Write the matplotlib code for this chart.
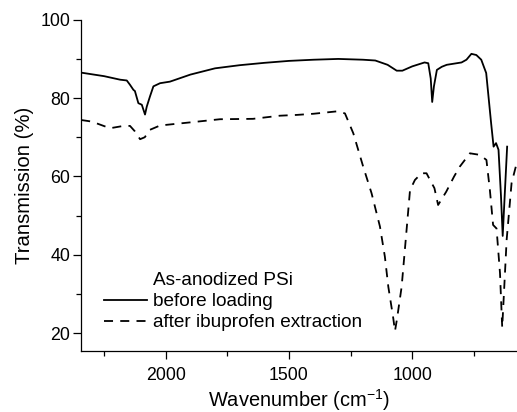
import matplotlib.pyplot as plt
from matplotlib.lines import Line2D
from matplotlib.ticker import MultipleLocator

plt.rcParams.update({
    'font.family': ['Liberation Sans', 'DejaVu Sans'],
    'font.size': 13,
    'mathtext.default': 'regular',
})

# --- data (wavenumber in cm-1, transmission in %) ---
before_wn = [2343, 2250, 2185, 2158, 2145, 2131, 2125, 2111, 2097, 2084, 2077,
             2064, 2050, 2023, 1983, 1969, 1900, 1800, 1700, 1600, 1500, 1400,
             1300, 1200, 1150, 1100, 1063, 1040, 1000, 950, 935, 925, 919, 912,
             900, 880, 860, 800, 780, 760, 740, 720, 700, 690, 680, 670, 660,
             650, 640, 633, 625, 615]
before_t = [86.5, 85.6, 84.7, 84.5, 83.4, 82.1, 81.8, 78.7, 78.3, 75.8, 77.8,
            80.4, 83.0, 83.8, 84.2, 84.5, 86.0, 87.6, 88.4, 89.0, 89.5, 89.8,
            90.0, 89.8, 89.6, 88.5, 87.0, 87.0, 88.1, 89.1, 88.9, 85.0, 79.0, 83.0,
            87.2, 88.0, 88.5, 89.1, 89.8, 91.3, 91.0, 89.8, 86.4, 80.0, 73.6,
            67.6, 68.5, 66.8, 55.0, 44.8, 55.0, 67.6]

after_wn = [2343, 2300, 2226, 2180, 2145, 2125, 2104, 2085, 2064, 2023, 1900,
            1780, 1646, 1537, 1469, 1400, 1307, 1273, 1239, 1199, 1165, 1131,
            1111, 1097, 1077, 1070, 1062, 1043, 1030, 1016, 1009, 989, 962, 942,
            928, 910, 895, 862, 830, 807, 766, 726, 699, 685, 672, 658, 644,
            635, 617, 597, 577]
after_t = [74.4, 74.0, 72.3, 72.8, 72.9, 71.5, 69.5, 70.0, 71.9, 73.0, 73.8,
           74.6, 74.7, 75.5, 75.7, 76.0, 76.6, 76.1, 71.0, 62.5, 55.7, 47.2,
           39.5, 31.8, 23.8, 20.5, 23.5, 31.8, 41.2, 51.4, 56.5, 59.1, 60.8, 60.8,
           59.1, 57.0, 52.7, 56.1, 60.0, 62.5, 65.9, 65.5, 64.2, 56.5, 47.6, 46.7,
           35.3, 21.4, 43.8, 58.3, 63.2]

fig = plt.figure(figsize=(5.17, 4.12), dpi=100)
ax = fig.add_axes([0.157, 0.148, 0.843, 0.804])

ax.plot(before_wn, before_t, color='black', linewidth=1.3, label='before loading')
ax.plot(after_wn, after_t, color='black', linewidth=1.3, linestyle=(0, (5, 4)),
        label='after ibuprofen extraction')

ax.set_xlim(2343, 575)
ax.set_ylim(15.4, 100)
ax.xaxis.set_major_locator(MultipleLocator(500))
ax.xaxis.set_minor_locator(MultipleLocator(250))
ax.yaxis.set_major_locator(MultipleLocator(20))
ax.yaxis.set_minor_locator(MultipleLocator(10))
ax.tick_params(which='major', direction='out', length=5.5, width=0.9,
               labelsize=12.8)
ax.tick_params(axis='x', which='major', pad=6)
ax.tick_params(axis='y', which='major', pad=2.5)
ax.tick_params(which='minor', direction='out', length=3.5, width=0.9)

for side in ('top', 'right'):
    ax.spines[side].set_visible(False)
for side in ('left', 'bottom'):
    ax.spines[side].set_linewidth(0.9)

ax.set_xlabel('Wavenumber (cm$^{-1}$)', fontsize=14.4, labelpad=2)
ax.set_ylabel('Transmission (%)', fontsize=14.6)
ax.yaxis.set_label_coords(-0.108, 0.5)

title_handle = Line2D([], [], linestyle='none')
handles, labels = ax.get_legend_handles_labels()
ax.legend([title_handle] + handles, ['As-anodized PSi'] + labels,
          loc='lower left', bbox_to_anchor=(0.011, 0.005), frameon=False,
          fontsize=13.7, handlelength=2.25, handletextpad=0.32,
          labelspacing=0.2, borderaxespad=0.55)

fig.savefig('out.png', dpi=100)
